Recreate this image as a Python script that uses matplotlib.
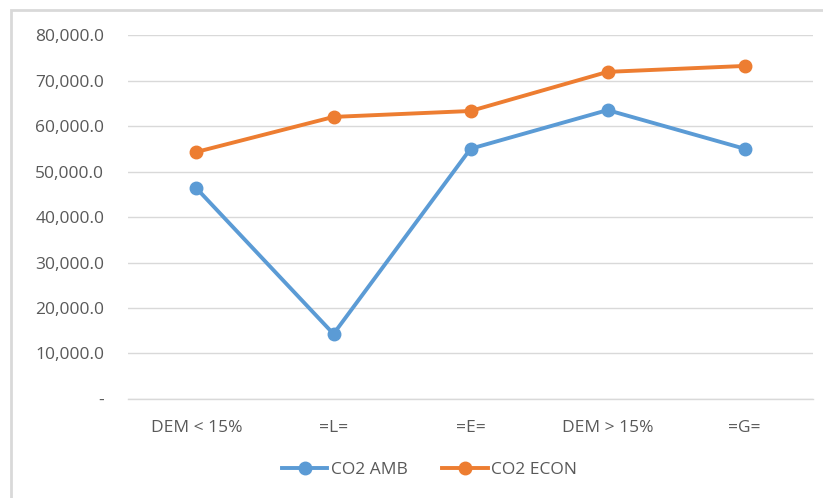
import matplotlib.pyplot as plt
from matplotlib.patches import Rectangle
from matplotlib.ticker import FuncFormatter

categories = ['DEM < 15%', '=L=', '=E=', 'DEM > 15%', '=G=']
co2_amb = [46300, 14300, 55000, 63500, 55000]
co2_econ = [54300, 62000, 63300, 71900, 73200]

BLUE = '#5B9BD5'
ORANGE = '#ED7D31'
GRID = '#D9D9D9'
TEXT = '#595959'

plt.rcParams['font.family'] = ['Open Sans', 'DejaVu Sans']

fig = plt.figure(figsize=(8.23, 4.98), dpi=100)
ax = fig.add_axes([0.1555, 0.1988, 0.8325, 0.7309])

x = range(len(categories))
ax.plot(x, co2_amb, color=BLUE, lw=2.8, marker='o', ms=9, label='CO2 AMB')
ax.plot(x, co2_econ, color=ORANGE, lw=2.8, marker='o', ms=9, label='CO2 ECON')

ax.set_xlim(-0.5, len(categories) - 0.5)
ax.set_ylim(0, 80000)
ax.set_yticks(range(0, 80001, 10000))
ax.yaxis.set_major_formatter(FuncFormatter(
    lambda v, p: '-' if v == 0 else f'{v:,.1f}'))
ax.set_xticks(list(x))
ax.set_xticklabels(categories)

ax.grid(axis='y', color=GRID, lw=1.0)
ax.set_axisbelow(True)
for s in ['top', 'right', 'left']:
    ax.spines[s].set_visible(False)
ax.spines['bottom'].set_color(GRID)
ax.spines['bottom'].set_linewidth(1.0)
ax.tick_params(length=0, colors=TEXT, labelsize=12.5)
ax.tick_params(axis='y', pad=17)
ax.tick_params(axis='x', pad=15)

leg = fig.legend(loc='center', bbox_to_anchor=(0.522, 0.056), ncol=2,
                 frameon=False, fontsize=12.5, handlelength=2.6,
                 columnspacing=2.0, handletextpad=0.2)
for t in leg.get_texts():
    t.set_color(TEXT)

# chart area frame (cropped at right and bottom)
fig.patches.append(Rectangle((11 / 823, -0.1), 1.2, 1.1 - 10 / 498,
                             transform=fig.transFigure, fill=False,
                             edgecolor=GRID, lw=2))

fig.savefig('out.png', dpi=100)
